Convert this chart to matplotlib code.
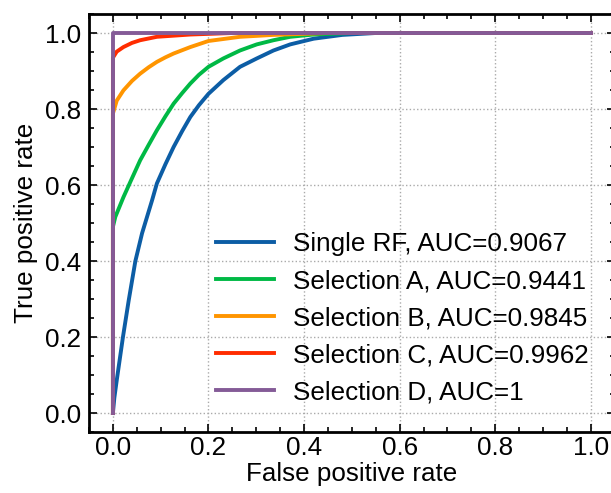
import matplotlib
matplotlib.use('Agg')
import matplotlib.pyplot as plt
from matplotlib.ticker import MultipleLocator

# ROC curves (false positive rate, true positive rate)
rf_fpr = [0, 0.003, 0.008, 0.021, 0.033, 0.047, 0.061, 0.082, 0.092, 0.11, 0.127, 0.145,
          0.162, 0.18, 0.2, 0.231, 0.266, 0.301, 0.336, 0.371, 0.42, 0.48, 0.55, 1.0]
rf_tpr = [0, 0.04, 0.086, 0.2, 0.296, 0.4, 0.473, 0.56, 0.604, 0.655, 0.70, 0.742,
          0.779, 0.81, 0.84, 0.876, 0.911, 0.933, 0.954, 0.970, 0.985, 0.995, 1.0, 1.0]

a_fpr = [0, 0, 0.005, 0.022, 0.04, 0.057, 0.075, 0.092, 0.11, 0.127, 0.145, 0.162, 0.18,
         0.2, 0.231, 0.266, 0.301, 0.336, 0.371, 0.42, 0.5, 1.0]
a_tpr = [0, 0.49, 0.516, 0.568, 0.618, 0.665, 0.706, 0.744, 0.781, 0.814, 0.842, 0.867, 0.89,
         0.911, 0.933, 0.954, 0.970, 0.981, 0.99, 0.996, 1.0, 1.0]

b_fpr = [0, 0, 0.008, 0.022, 0.04, 0.057, 0.075, 0.092, 0.11, 0.127, 0.162, 0.2, 0.266,
         0.336, 0.45, 1.0]
b_tpr = [0, 0.788, 0.822, 0.849, 0.874, 0.893, 0.91, 0.924, 0.936, 0.946, 0.963, 0.979, 0.99,
         0.995, 1.0, 1.0]

c_fpr = [0, 0, 0.008, 0.022, 0.04, 0.057, 0.092, 0.162, 0.25, 1.0]
c_tpr = [0, 0.935, 0.951, 0.963, 0.974, 0.981, 0.99, 0.996, 1.0, 1.0]

d_fpr = [0, 0, 1.0]
d_tpr = [0, 1.0, 1.0]

labels = ['Single RF, AUC=0.9067', 'Selection A, AUC=0.9441', 'Selection B, AUC=0.9845',
          'Selection C, AUC=0.9962', 'Selection D, AUC=1']
colors = ['#0C5DA5', '#00B945', '#FF9500', '#FF2C00', '#845B97']

plt.rcParams['font.family'] = ['Liberation Sans', 'DejaVu Sans']
plt.rcParams['font.size'] = 18.7

fig = plt.figure(figsize=(6.11, 4.93), dpi=100)
ax = fig.add_axes([0.1457, 0.1237, 0.8603, 0.8479])

curves = [(rf_fpr, rf_tpr), (a_fpr, a_tpr), (b_fpr, b_tpr), (c_fpr, c_tpr), (d_fpr, d_tpr)]
for (x, y), lab, col in zip(curves, labels, colors):
    ax.plot(x, y, color=col, lw=2.8, label=lab, solid_joinstyle='round')

ax.set_xlim(-0.05, 1.05)
ax.set_ylim(-0.05, 1.05)
ax.xaxis.set_major_locator(MultipleLocator(0.2))
ax.yaxis.set_major_locator(MultipleLocator(0.2))
ax.xaxis.set_minor_locator(MultipleLocator(0.05))
ax.yaxis.set_minor_locator(MultipleLocator(0.05))
ax.tick_params(which='both', direction='in', top=True, right=True, width=1.2)
ax.tick_params(which='major', length=6)
ax.tick_params(which='minor', length=3.5)
ax.tick_params(axis='x', pad=3)
ax.tick_params(axis='y', pad=6)
for s in ax.spines.values():
    s.set_linewidth(2)

ax.grid(True, linestyle=':', color='#aaaaaa', lw=1)
ax.set_axisbelow(True)

ax.set_xlabel('False positive rate', labelpad=1)
ax.set_ylabel('True positive rate', labelpad=4.5)

ax.legend(loc='lower right', bbox_to_anchor=(0.995, 0.011), frameon=False,
          handlelength=2.2, handletextpad=0.75, labelspacing=0.5)

fig.savefig('out.png', dpi=100)
